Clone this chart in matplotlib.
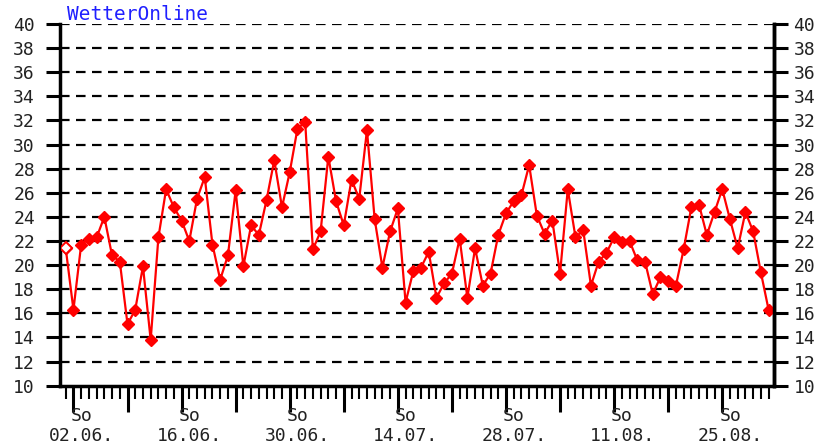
import numpy as np
import matplotlib.pyplot as plt
from matplotlib.transforms import ScaledTranslation

# daily max temperature, 01.06. - 31.08.
temps = [21.4, 16.3, 21.7, 22.2, 22.3, 24.0, 20.8, 20.3, 15.1, 16.3,
         19.9, 13.8, 22.3, 26.3, 24.8, 23.7, 22.0, 25.5, 27.3, 21.7,
         18.8, 20.8, 26.2, 19.9, 23.3, 22.5, 25.4, 28.7, 24.8, 27.7,
         31.3, 31.9, 21.3, 22.8, 29.0, 25.3, 23.3, 27.1, 25.5, 31.2,
         23.8, 19.8, 22.8, 24.7, 16.9, 19.5, 19.8, 21.1, 17.3, 18.5,
         19.3, 22.2, 17.3, 21.4, 18.3, 19.3, 22.5, 24.3, 25.3, 25.8,
         28.3, 24.1, 22.6, 23.7, 19.3, 26.3, 22.3, 22.9, 18.3, 20.3,
         21.0, 22.3, 21.9, 22.0, 20.4, 20.3, 17.6, 19.0, 18.7, 18.3,
         21.3, 24.8, 25.0, 22.5, 24.4, 26.3, 23.8, 21.4, 24.4, 22.8,
         19.4, 16.3]
day_labels = ['So\n02.06.', 'So\n16.06.', 'So\n30.06.', 'So\n14.07.',
              'So\n28.07.', 'So\n11.08.', 'So\n25.08.']

days = np.arange(len(temps))
sundays = days[1::7]
labeled = list(days[1::14])

font = 'DejaVu Sans Mono'
txt = '#222222'
fs = 13

fig = plt.figure(figsize=(8.15, 4.47), dpi=100)
ax = fig.add_axes([60 / 815, (447 - 385.7) / 447, (774 - 60) / 815, (385.7 - 24) / 447])

yt = np.arange(10, 41, 2)
for v in yt[1:]:
    ax.axhline(v, color='black', lw=1.6, ls=(0, (4.3, 2.9)), zorder=1)

ax.plot(days, temps, color='red', lw=1.6, marker='D', ms=6.3, zorder=3)
ax.plot(days[:1], temps[:1], ls='none', marker='D', ms=6.3, mfc='white', mec='red', mew=1.4, zorder=4)

ax.set_xlim(-0.74, 91.7)
ax.set_ylim(10, 40)
ax.set_yticks(yt)
ax.set_yticklabels([str(v) for v in yt], fontfamily=font, fontsize=fs, color=txt)
ax.tick_params(axis='y', direction='out', length=10, width=2.2, pad=8)

ax.set_xticks(days, minor=True)
ax.set_xticks(sundays)
ax.set_xticklabels([day_labels[labeled.index(d)] if d in labeled else '' for d in sundays],
                   fontfamily=font, fontsize=fs, color=txt, linespacing=1.2)
ax.tick_params(axis='x', which='major', direction='out', length=19, width=2.2, pad=-4)
ax.tick_params(axis='x', which='minor', direction='out', length=9, width=1.5)
shift = ScaledTranslation(8 / 100, 0, fig.dpi_scale_trans)
for lab in ax.get_xticklabels():
    lab.set_transform(lab.get_transform() + shift)

ax.spines['top'].set_visible(False)
for s in ['left', 'right', 'bottom']:
    ax.spines[s].set_linewidth(2.5)

ax2 = ax.twinx()
ax2.set_ylim(10, 40)
ax2.set_yticks(yt)
ax2.set_yticklabels([str(v) for v in yt], fontfamily=font, fontsize=fs, color=txt)
ax2.tick_params(axis='y', direction='out', length=10, width=2.2, pad=4)
ax2.spines['top'].set_visible(False)
ax2.spines['right'].set_linewidth(2.5)

fig.text(67 / 815, 1 - 15 / 447, 'WetterOnline', color='#2020ff', fontfamily=font,
         fontsize=14, va='center', ha='left')

fig.savefig('out.png', dpi=100)
